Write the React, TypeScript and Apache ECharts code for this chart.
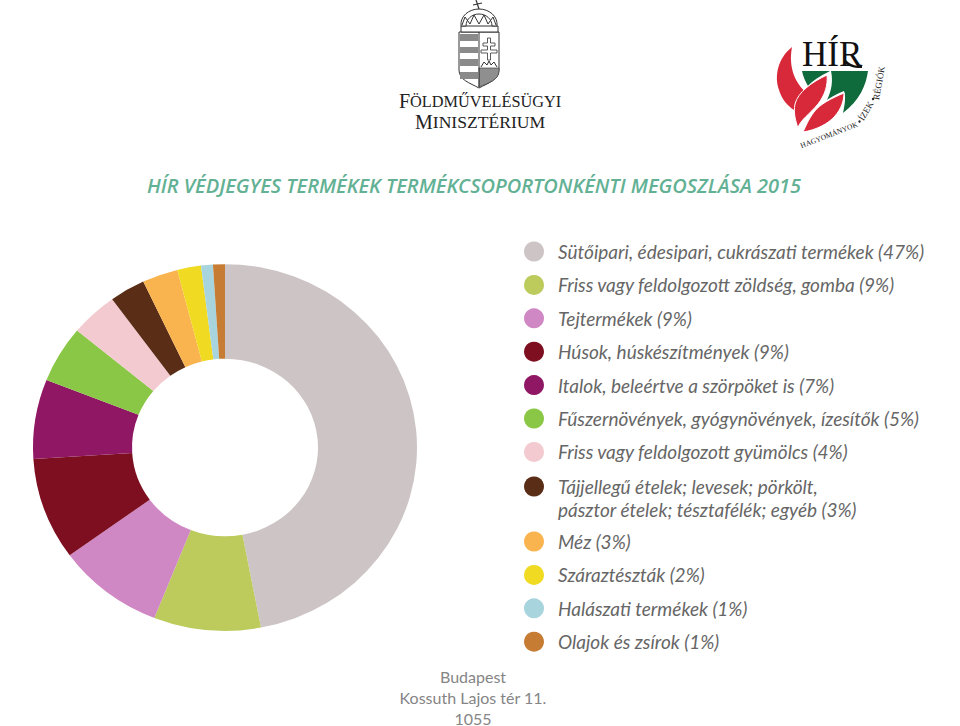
import React, { useEffect, useRef } from "react";
import * as echarts from "echarts";

const categories = [
  "Sütőipari, édesipari, cukrászati termékek",
  "Friss vagy feldolgozott zöldség, gomba",
  "Tejtermékek",
  "Húsok, húskészítmények",
  "Italok, beleértve a szörpöket is",
  "Fűszernövények, gyógynövények, ízesítők",
  "Friss vagy feldolgozott gyümölcs",
  "Tájjellegű ételek; levesek; pörkölt, pásztor ételek; tésztafélék; egyéb",
  "Méz",
  "Száraztészták",
  "Halászati termékek",
  "Olajok és zsírok",
];
const shares = [47, 9, 9, 9, 7, 5, 4, 3, 3, 2, 1, 1];
const sliceColors = [
  "#cdc4c5", "#bccb5c", "#cf88c4", "#7d0f20", "#8f1763", "#8ac746",
  "#f3cad0", "#5a2d17", "#f9b450", "#f0da22", "#a8d4de", "#c67c32",
];
const titleText = "HÍR VÉDJEGYES TERMÉKEK TERMÉKCSOPORTONKÉNTI MEGOSZLÁSA 2015";
const footerLines = ["Budapest", "Kossuth Lajos tér 11.", "1055"];

const shapes: Record<string, string> = {
  shield: "M459 32 L499 32 L499 70 C499 80 488 83 479 88 C470 83 459 80 459 70 Z",
  hatch: "M479 68 L499 68 L499 71 C499 80 488 83 479 87 Z",
  dome: "M461 26 C460 16 469 9 479 9 C489 9 498 16 497 26 L492 26 C492 19 486 14 479 14 C472 14 466 19 466 26 Z",
  arches: "M462 25 L465 17 L470 24 L474 15 L479 24 L484 15 L488 24 L493 17 L496 25",
  dcross: "M487.5 38 L490.5 38 L490.5 43 L495 43 L495 46 L490.5 46 L490.5 50 L497 50 L497 53 L490.5 53 L490.5 60 L487.5 60 L487.5 53 L481 53 L481 50 L487.5 50 L487.5 46 L483 46 L483 43 L487.5 43 Z",
  flame1: "M792 47 C778 58 774 76 779 90 C782 100 788 106 794 110 C796 104 800 98 806 92 C796 84 788 68 792 47 Z",
  flame2: "M827 75 C812 82 798 92 795 104 C793 113 796 122 798 128 C800 120 810 114 818 104 C825 95 828 85 827 75 Z",
  flame3: "M844 93 C832 98 820 104 814 112 C808 120 806 126 803 132 C816 130 828 124 835 116 C841 109 844 101 844 93 Z",
  green1: "M802 71 L830 71 C820 76 812 81 808 86 C805 81 803 76 802 71 Z",
  green2: "M831 71 L868 71 C866 85 860 100 843 113 C845 104 846 96 844 91 C838 93 830 98 827 100 C832 90 833 80 831 71 Z",
  rtail: "M846 60 C850 64 854 66 862 66 L862 68 C852 68 848 66 844 62 Z",
};
Object.keys(shapes).forEach((k) => {
  echarts.graphic.registerShape(k, echarts.graphic.extendPath(shapes[k], {}));
});

const lab = (name: string) => `${name} (${shares[categories.indexOf(name)]}%)`;
const legendText = {
  fontFamily: "Lato",
  fontStyle: "italic" as const,
  fontSize: 19,
  lineHeight: 23,
  color: "#666666",
};
const legendBase = {
  orient: "vertical" as const,
  left: 524,
  padding: 0,
  itemWidth: 38,
  itemHeight: 20,
  itemGap: 10.4,
  icon: "circle",
  selectedMode: false,
  textStyle: legendText,
};

function App() {
  const ref = useRef<HTMLDivElement>(null);
  useEffect(() => {
    document.body.style.margin = "0";
    const chart = echarts.init(ref.current!, undefined, { renderer: "svg" });
    const armsLine = { stroke: "#333", lineWidth: 1, fill: "none" };
    const band = (y: number, h: number) => ({
      type: "rect", shape: { x: 460, y, width: 18, height: h }, style: { fill: "#8a8a8a" },
    });
    chart.setOption({
      animation: false,
      backgroundColor: "#ffffff",
      title: {
        text: titleText,
        left: 147,
        top: 175,
        padding: 0,
        textStyle: { fontFamily: "Open Sans", fontStyle: "italic", fontWeight: 600, fontSize: 20, color: "#62b194" },
      },
      legend: [
        { ...legendBase, top: 240, data: categories.slice(0, 7), formatter: lab },
        {
          ...legendBase,
          top: 452,
          data: [categories[7]],
          formatter: (n: string) => "\n" + lab(n).replace(", pásztor", ",\npásztor"),
        },
        { ...legendBase, top: 530, data: categories.slice(8), formatter: lab },
      ],
      series: [
        {
          type: "pie",
          center: [225, 447.5],
          radius: [93, 192],
          startAngle: 90,
          clockwise: true,
          silent: true,
          label: { show: false },
          labelLine: { show: false },
          data: categories.map((name, i) => ({ name, value: shares[i], itemStyle: { color: sliceColors[i] } })),
        },
      ],
      graphic: [
        // ministry arms
        { type: "shield", style: { fill: "#fff", stroke: "#333", lineWidth: 1 } },
        band(34, 7), band(47, 6), band(59, 7), band(72, 7),
        { type: "hatch", style: { fill: "#8f8f8f", stroke: "#333", lineWidth: 0.6 } },
        { type: "line", shape: { x1: 479, y1: 32, x2: 479, y2: 87 }, style: { stroke: "#333", lineWidth: 1 } },
        { type: "dcross", style: { fill: "#fff", stroke: "#333", lineWidth: 0.8 } },
        { type: "polyline", shape: { points: [[481, 67], [484, 62], [487, 65], [489, 61], [491, 65], [494, 62], [497, 67]] }, style: armsLine },
        { type: "rect", shape: { x: 461, y: 26, width: 37, height: 6 }, style: { fill: "#fff", stroke: "#333", lineWidth: 1 } },
        { type: "dome", style: { fill: "#fff", stroke: "#333", lineWidth: 1 } },
        { type: "arches", style: armsLine },
        { type: "line", shape: { x1: 476, y1: 0, x2: 479, y2: 9 }, style: { stroke: "#333", lineWidth: 1.2 } },
        { type: "line", shape: { x1: 473, y1: 5, x2: 482, y2: 3 }, style: { stroke: "#333", lineWidth: 1.2 } },
        {
          type: "text", x: 399, y: 91,
          style: {
            text: "{a|F}{b|ÖLDMŰVELÉSÜGYI}",
            rich: {
              a: { fontFamily: "Liberation Serif", fontSize: 20, fill: "#222" },
              b: { fontFamily: "Liberation Serif", fontSize: 16.3, fill: "#222" },
            },
          },
        },
        {
          type: "text", x: 415, y: 112,
          style: {
            text: "{a|M}{b|INISZTÉRIUM}",
            rich: {
              a: { fontFamily: "Liberation Serif", fontSize: 20, fill: "#222" },
              b: { fontFamily: "Liberation Serif", fontSize: 17.6, fill: "#222" },
            },
          },
        },
        // HÍR logo
        { type: "green1", style: { fill: "#0f6a3c" } },
        { type: "green2", style: { fill: "#0f6a3c" } },
        { type: "flame1", style: { fill: "#d8293a" } },
        { type: "flame2", style: { fill: "#d8293a", stroke: "#fff", lineWidth: 1 } },
        { type: "flame3", style: { fill: "#d8293a", stroke: "#fff", lineWidth: 1 } },
        {
          type: "text", x: 802, y: 37,
          style: { text: "HÍR", fontFamily: "Liberation Serif", fontSize: 35, fill: "#111" },
        },
        { type: "rtail", style: { fill: "#111" } },
        {
          type: "text", x: 829, y: 135, rotation: 0.37,
          style: { text: "HAGYOMÁNYOK", fontFamily: "Liberation Serif", fontSize: 7.5, fill: "#222", align: "center", verticalAlign: "middle" },
        },
        {
          type: "text", x: 866, y: 111, rotation: 1.05,
          style: { text: "ÍZEK", fontFamily: "Liberation Serif", fontSize: 9, fill: "#222", align: "center", verticalAlign: "middle" },
        },
        {
          type: "text", x: 879, y: 83, rotation: 1.4,
          style: { text: "RÉGIÓK", fontFamily: "Liberation Serif", fontSize: 9, fill: "#222", align: "center", verticalAlign: "middle" },
        },
        { type: "circle", shape: { cx: 859.5, cy: 121.5, r: 1.2 }, style: { fill: "#222" } },
        { type: "circle", shape: { cx: 873, cy: 99, r: 1.2 }, style: { fill: "#222" } },
        // footer
        ...footerLines.map((line, i) => ({
          type: "text", x: 473, y: 676 + i * 21,
          style: {
            text: line, fontFamily: "Lato", fontSize: 16, fill: "#858585",
            align: "center", verticalAlign: "middle",
          },
        })),
      ],
    });
    // The reference donut is slightly squashed vertically.
    const view = (chart as any)._chartsViews?.[0];
    if (view) {
      view.group.originX = 225;
      view.group.originY = 447.5;
      view.group.scaleY = 0.955;
      view.group.markRedraw();
      chart.getZr().refresh();
    }
    return () => chart.dispose();
  }, []);
  return <div ref={ref} style={{ width: 960, height: 726 }} />;
}

export default App;
